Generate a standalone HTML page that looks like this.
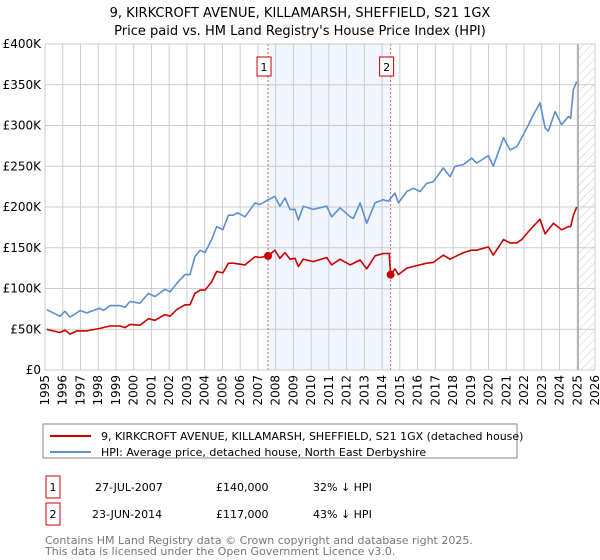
<!DOCTYPE html>
<html><head><meta charset="utf-8"><style>
body{margin:0;background:#fff;font-family:"Liberation Sans","DejaVu Sans",sans-serif;}
#wrap{position:relative;width:600px;height:560px;overflow:hidden;}
</style></head><body><div id="wrap">
<svg id="svg" width="600" height="560" xmlns="http://www.w3.org/2000/svg" font-family="DejaVu Sans, Liberation Sans, sans-serif">
<defs><pattern id="hatch" width="6" height="6" patternUnits="userSpaceOnUse" patternTransform="rotate(45)"><line x1="0" y1="0" x2="0" y2="6" stroke="#ccc" stroke-width="1"/></pattern></defs>
<text x="300" y="17" text-anchor="middle" font-size="13">9, KIRKCROFT AVENUE, KILLAMARSH, SHEFFIELD, S21 1GX</text>
<text x="300" y="35" text-anchor="middle" font-size="13">Price paid vs. HM Land Registry's House Price Index (HPI)</text>
<g id="plot"></g>
<rect x="43" y="424" width="474" height="34" fill="none" stroke="#888"/>
<line x1="50" y1="436" x2="91" y2="436" stroke="#cc0000" stroke-width="2"/>
<text x="101" y="440" font-size="11">9, KIRKCROFT AVENUE, KILLAMARSH, SHEFFIELD, S21 1GX (detached house)</text>
<line x1="50" y1="452" x2="91" y2="452" stroke="#5b8fd0" stroke-width="2"/>
<text x="101" y="456" font-size="11">HPI: Average price, detached house, North East Derbyshire</text>
<rect x="46" y="476" width="14" height="22" fill="none" stroke="#cc0000"/>
<text x="53" y="491" font-size="11" text-anchor="middle">1</text>
<text x="95" y="491" font-size="11">27-JUL-2007</text>
<text x="216" y="491" font-size="11">£140,000</text>
<text x="313" y="491" font-size="11">32% ↓ HPI</text>
<rect x="46" y="503" width="14" height="22" fill="none" stroke="#cc0000"/>
<text x="53" y="518" font-size="11" text-anchor="middle">2</text>
<text x="92" y="518" font-size="11">23-JUN-2014</text>
<text x="216" y="518" font-size="11">£117,000</text>
<text x="313" y="518" font-size="11">43% ↓ HPI</text>
<text x="45" y="544" font-size="11" fill="#777">Contains HM Land Registry data © Crown copyright and database right 2025.</text>
<text x="45" y="555" font-size="11" fill="#777">This data is licensed under the Open Government Licence v3.0.</text>
</svg></div>
<script>
const yTicks=[0,50,100,150,200,250,300,350,400];
const yLabels=["£0","£50K","£100K","£150K","£200K","£250K","£300K","£350K","£400K"];
const xYears=[1995,1996,1997,1998,1999,2000,2001,2002,2003,2004,2005,2006,2007,2008,2009,2010,2011,2012,2013,2014,2015,2016,2017,2018,2019,2020,2021,2022,2023,2024,2025,2026];
const hpiYears=[1995.1,1995.84,1996.13,1996.41,1996.79,1996.97,1997.35,1998.1,1998.29,1998.66,1999.23,1999.51,1999.79,2000.35,2000.83,2001.2,2001.76,2002.05,2002.42,2002.89,2003.17,2003.45,2003.74,2004.02,2004.39,2004.68,2005.02,2005.34,2005.62,2005.84,2006.27,2006.84,2007.12,2007.5,2007.96,2008.24,2008.53,2008.81,2009.09,2009.28,2009.56,2010.12,2010.88,2011.16,2011.63,2012.2,2012.38,2012.76,2013.13,2013.6,2014.07,2014.35,2014.73,2014.92,2015.39,2015.76,2016.14,2016.51,2016.89,2017.45,2017.83,2018.11,2018.58,2019.05,2019.33,2019.99,2020.27,2020.84,2021.21,2021.59,2021.87,2022.25,2022.53,2022.9,2023.19,2023.37,2023.75,2024.12,2024.5,2024.63,2024.78,2024.97];
const hpiValues=[74,66,72,65,70,73,70,76,73,79,79,77,84,82,94,90,99,96,106,117,117,139,147,144,160,176,172,190,190,193,188,205,203,208,213,201,211,197,197,184,201,197,201,188,199,188,186,205,180,205,209,207,217,205,219,223,219,229,231,248,237,250,252,260,254,263,250,285,270,274,285,301,313,328,297,293,317,301,311,309,344,354];
const priceYears=[1995.1,1995.84,1996.13,1996.41,1996.79,1997.35,1998.1,1998.66,1999.23,1999.51,1999.79,2000.35,2000.83,2001.2,2001.76,2002.05,2002.42,2002.89,2003.17,2003.45,2003.74,2004.02,2004.39,2004.68,2005.02,2005.34,2005.62,2006.27,2006.84,2007.12,2007.57,2007.96,2008.24,2008.53,2008.81,2009.09,2009.28,2009.56,2010.12,2010.88,2011.16,2011.63,2012.2,2012.76,2013.13,2013.6,2014.07,2014.4,2014.48,2014.73,2014.92,2015.39,2015.76,2016.51,2016.89,2017.45,2017.83,2018.58,2019.05,2019.33,2019.99,2020.27,2020.84,2021.21,2021.59,2021.87,2022.25,2022.9,2023.19,2023.66,2024.12,2024.5,2024.63,2024.78,2024.97];
const priceValues=[50,46,49,44,48,48,51,54,54,52,56,55,63,61,68,66,74,80,80,94,98,98,108,121,119,131,131,129,139,138,140,147,137,144,136,137,127,136,133,138,129,136,129,135,124,140,143,143,117,124,117,125,127,131,132,141,136,144,147,147,151,141,160,156,156,160,170,185,167,180,172,176,176,190,200];
const saleYears=[2007.57,2014.48];
const saleValues=[140,117];
const saleLabels=["1","2"];
const X0=45,X1=595,Y0=370,Y1=44;
const xs=y=>X0+(y-1995)/(2026-1995)*(X1-X0);
const ys=v=>Y0-v/400*(Y0-Y1);
const NS="http://www.w3.org/2000/svg";
const g=document.getElementById('plot');
function mk(t,a){const e=document.createElementNS(NS,t);for(const k in a)e.setAttribute(k,a[k]);g.appendChild(e);return e;}
let e=mk('rect',{x:xs(saleYears[0]),y:Y1,width:xs(saleYears[1])-xs(saleYears[0]),height:Y0-Y1,fill:'#eef3fc',opacity:0.8});


e=mk('rect',{x:xs(2025.05),y:Y1,width:X1-xs(2025.05),height:Y0-Y1,fill:'url(#hatch)'});


yTicks.forEach((t,i)=>{
 e=mk('line',{x1:X0,x2:X1,y1:ys(t),y2:ys(t),stroke:'#ccc','stroke-width':1});
 
 
 e=mk('text',{x:X0-4,y:ys(t)+4,'text-anchor':'end','font-size':12});
 e.textContent=yLabels[i];
 
 
});
xYears.forEach(yr=>{
 e=mk('line',{x1:xs(yr),x2:xs(yr),y1:Y1,y2:Y0,stroke:'#ccc','stroke-width':1});
 
 
 e=mk('text',{x:0,y:0,'text-anchor':'end','font-size':12,transform:`translate(${xs(yr)+4},${Y0+5}) rotate(-90)`});
 e.textContent=yr;
 
 
});
e=mk('line',{x1:xs(2025.05),x2:xs(2025.05),y1:Y1,y2:Y0,stroke:'#888','stroke-width':1});


saleYears.forEach((s,i)=>{
 e=mk('line',{x1:xs(s),x2:xs(s),y1:Y1,y2:Y0,stroke:'#e06070','stroke-width':1,'stroke-dasharray':'2,2'});
 
 
 e=mk('rect',{x:xs(s)-14+((i==0)?3:3),y:57,width:14,height:19,fill:'#fff',stroke:'#cc0000'});
 
 
 e=mk('text',{x:xs(s)-4,y:71,'text-anchor':'middle','font-size':11});
 e.textContent=saleLabels[i];
 
 
});
function path(xa,va,col,name){
 const d=xa.map((x,i)=>(i?'L':'M')+xs(x).toFixed(1)+','+ys(va[i]).toFixed(1)).join('');
 const p=mk('path',{d:d,fill:'none',stroke:col,'stroke-width':1.6,'stroke-linejoin':'round'});
 
 
}
path(hpiYears,hpiValues,'#5b8fd0','hpi-line');
path(priceYears,priceValues,'#cc0000','price-line');
saleYears.forEach((s,i)=>{
 e=mk('circle',{cx:xs(s),cy:ys(saleValues[i]),r:4,fill:'#cc0000'});
 
 
});
e=mk('rect',{x:X0,y:Y1,width:X1-X0,height:Y0-Y1,fill:'none',stroke:'#ccc'});


</script></body></html>
